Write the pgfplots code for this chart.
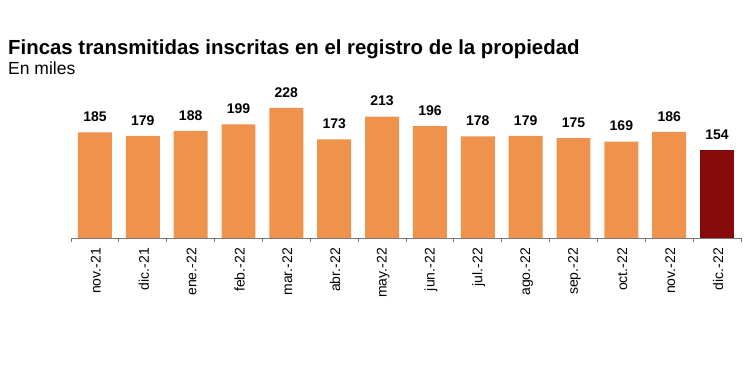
\documentclass[border=0pt]{standalone}
\usepackage{fontspec}
\setmainfont{Liberation Sans}
\usepackage{pgfplots}
\pgfplotsset{compat=1.18}
\definecolor{barorange}{RGB}{238,146,76}
\definecolor{bardark}{RGB}{134,10,10}
\definecolor{axisgray}{RGB}{120,120,120}
\begin{document}
\begin{tikzpicture}
\useasboundingbox (0,0) rectangle (750bp,367bp);
\node[anchor=base west, inner sep=0, font=\fontsize{20.4bp}{24bp}\selectfont\bfseries] at (8bp,312bp) {Fincas transmitidas inscritas en el registro de la propiedad};
\node[anchor=base west, inner sep=0, font=\fontsize{17.5bp}{21bp}\selectfont] at (8bp,292bp) {En miles};
\begin{axis}[
  at={(71bp,129bp)}, anchor=south west,
  scale only axis, width=670bp, height=142.6bp,
  xmin=-0.5, xmax=13.5, ymin=0, ymax=250,
  axis x line*=bottom, axis y line=none,
  axis line style={axisgray, line width=0.8bp},
  xtick={0,...,13},
  xticklabels={nov.-21,dic.-21,ene.-22,feb.-22,mar.-22,abr.-22,may.-22,jun.-22,jul.-22,ago.-22,sep.-22,oct.-22,nov.-22,dic.-22},
  major tick length=0pt,
  minor xtick={-0.5,0.5,...,13.5},
  minor tick length=4bp,
  tick align=outside,
  minor tick style={axisgray, line width=0.8bp},
  xticklabel style={rotate=90, anchor=east, inner sep=0pt, font=\fontsize{14bp}{17bp}\selectfont, xshift=-10bp, yshift=-1bp},
  ybar, bar width=0.71, bar shift=0pt,
  /pgf/number format/assume math mode=true,
  nodes near coords,
  every node near coord/.append style={font=\fontsize{14bp}{17bp}\selectfont\bfseries, yshift=7bp, text=black},
  clip=false,
]
\addplot[fill=barorange, draw=none] coordinates {(0,185) (1,179) (2,188) (3,199) (4,228) (5,173) (6,213) (7,196) (8,178) (9,179) (10,175) (11,169) (12,186)};
\addplot[fill=bardark, draw=none] coordinates {(13,154)};
\end{axis}
\end{tikzpicture}
\end{document}
